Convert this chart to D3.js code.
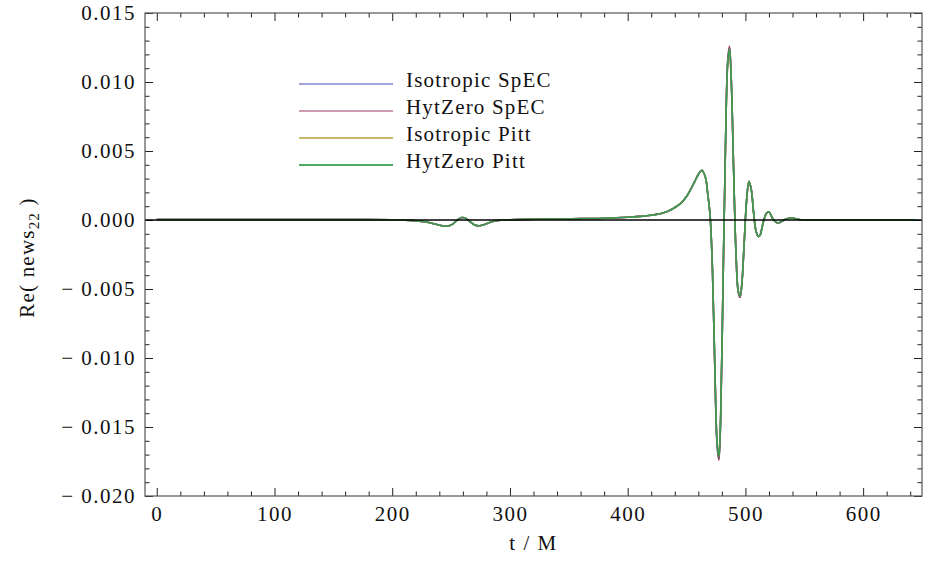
<!DOCTYPE html>
<html>
<head>
<meta charset="utf-8">
<script src="https://cdn.jsdelivr.net/npm/d3@7/dist/d3.min.js"></script>
<style>
  html, body { margin: 0; padding: 0; background: #fff; }
  svg { display: block; }
  text { font-family: "Liberation Serif", "Times New Roman", serif; fill: #111; }
</style>
</head>
<body>
<svg id="chart" width="925" height="575"></svg>
<script>
// ---------------- data ----------------
const tValues = [
  0, 40, 80, 120, 160, 200, 215, 225, 232, 238,
  243, 247, 251, 255, 259, 263, 266, 270, 274, 279,
  284, 290, 300, 320, 340, 360, 380, 400, 410, 420,
  430, 438, 445, 450, 454, 457, 460, 463, 466, 468,
  470, 472, 474, 476, 477.5, 479, 481, 483, 485, 486.5,
  488, 490, 492, 494, 495.5, 497, 499, 501, 503, 505,
  507, 509, 511, 512.5, 514, 516, 518, 520, 522, 524,
  527, 530, 534, 538, 542, 547, 555, 570, 600, 630,
  645
];

const isotropicSpEC = [
  0.00003, 0.00003, 0.00003, 0.00003, 0.00003, 0.00002, -0.00003, -0.0001, -0.0002, -0.00033,
  -0.00042, -0.00045, -0.00032, -0.00002, 0.00018, 0.0001, -0.00012, -0.00036, -0.00042, -0.0003,
  -0.00015, -0.00004, 0.00002, 0.00005, 0.00007, 0.0001, 0.00013, 0.0002, 0.00026, 0.00035,
  0.0005, 0.0008, 0.0012, 0.0017, 0.0023, 0.0028, 0.0033, 0.0036, 0.0031, 0.0019,
  0.0003, -0.0036, -0.0106, -0.0163, -0.0173, -0.0143, -0.0046, 0.0050, 0.0115, 0.0125,
  0.0102, 0.0036, -0.0024, -0.0052, -0.0056, -0.0046, -0.0016, 0.0014, 0.0028, 0.0022,
  0.0005, -0.0008, -0.0012, -0.0011, -0.0006, 0.0001, 0.0005, 0.0006, 0.0003, 0.0000,
  -0.0002, -0.00015, 0.00005, 0.00015, 0.0001, 0.00002, 0.0, 0.00001, 0.00001, 0.00001,
  0.00001
];

const hytZeroSpEC = [
  0.00003, 0.00003, 0.00003, 0.00003, 0.00003, 0.00002, -0.00003, -0.0001, -0.0002, -0.00033,
  -0.00042, -0.00045, -0.00032, -0.00002, 0.00018, 0.0001, -0.00012, -0.00036, -0.00042, -0.0003,
  -0.00015, -0.00004, 0.00002, 0.00005, 0.00007, 0.0001, 0.00013, 0.0002, 0.00026, 0.00035,
  0.0005, 0.0008, 0.0012, 0.0017, 0.0023, 0.0028, 0.0033, 0.0036, 0.0031, 0.0019,
  0.0003, -0.0036, -0.0107, -0.0164, -0.0174, -0.0144, -0.0046, 0.0050, 0.0116, 0.0126,
  0.0102, 0.0036, -0.0024, -0.0053, -0.0056, -0.0046, -0.0016, 0.0014, 0.0028, 0.0022,
  0.0005, -0.0008, -0.0012, -0.0011, -0.0006, 0.0001, 0.0005, 0.0006, 0.0003, 0.0000,
  -0.0002, -0.00015, 0.00005, 0.00015, 0.0001, 0.00002, 0.0, 0.00001, 0.00001, 0.00001,
  0.00001
];

const isotropicPitt = [
  0.00003, 0.00003, 0.00003, 0.00003, 0.00003, 0.00002, -0.00003, -0.0001, -0.0002, -0.00033,
  -0.00042, -0.00045, -0.00032, -0.00002, 0.00018, 0.0001, -0.00012, -0.00036, -0.00042, -0.0003,
  -0.00015, -0.00004, 0.00002, 0.00005, 0.00007, 0.0001, 0.00013, 0.0002, 0.00026, 0.00035,
  0.0005, 0.0008, 0.0012, 0.0017, 0.0023, 0.0028, 0.0033, 0.0036, 0.0031, 0.0019,
  0.0003, -0.0035, -0.0105, -0.0161, -0.0171, -0.0141, -0.0045, 0.0050, 0.0113, 0.0123,
  0.0100, 0.0036, -0.0024, -0.0052, -0.0055, -0.0046, -0.0016, 0.0014, 0.0028, 0.0022,
  0.0005, -0.0008, -0.0012, -0.0011, -0.0006, 0.0001, 0.0005, 0.0006, 0.0003, 0.0000,
  -0.0002, -0.00015, 0.00005, 0.00015, 0.0001, 0.00002, 0.0, 0.00001, 0.00001, 0.00001,
  0.00001
];

const hytZeroPitt = [
  0.00003, 0.00003, 0.00003, 0.00003, 0.00003, 0.00002, -0.00003, -0.0001, -0.0002, -0.00033,
  -0.00042, -0.00045, -0.00032, -0.00002, 0.00018, 0.0001, -0.00012, -0.00036, -0.00042, -0.0003,
  -0.00015, -0.00004, 0.00002, 0.00005, 0.00007, 0.0001, 0.00013, 0.0002, 0.00026, 0.00035,
  0.0005, 0.0008, 0.0012, 0.0017, 0.0023, 0.0028, 0.0033, 0.0036, 0.0031, 0.0019,
  0.0003, -0.0035, -0.0105, -0.0162, -0.0172, -0.0142, -0.0045, 0.0050, 0.0114, 0.0124,
  0.0101, 0.0036, -0.0024, -0.0052, -0.0055, -0.0046, -0.0016, 0.0014, 0.0028, 0.0022,
  0.0005, -0.0008, -0.0012, -0.0011, -0.0006, 0.0001, 0.0005, 0.0006, 0.0003, 0.0000,
  -0.0002, -0.00015, 0.00005, 0.00015, 0.0001, 0.00002, 0.0, 0.00001, 0.00001, 0.00001,
  0.00001
];

const seriesNames = ["Isotropic SpEC", "HytZero SpEC", "Isotropic Pitt", "HytZero Pitt"];
const seriesColors = ["#3d3d99", "#993d71", "#998b3d", "#3d9954"];
const legendColors = ["#4848b8", "#a03a68", "#b89c3c", "#4cab62"];

const xTickValues = [0, 100, 200, 300, 400, 500, 600];
const xTickLabels = ["0", "100", "200", "300", "400", "500", "600"];
const yTickValues = [0.015, 0.010, 0.005, 0.000, -0.005, -0.010, -0.015, -0.020];
const yTickLabels = ["0.015", "0.010", "0.005", "0.000", "\u2212 0.005", "\u2212 0.010", "\u2212 0.015", "\u2212 0.020"];

// ---------------- layout ----------------
const svg = d3.select("#chart");
const margin = { left: 145, top: 13, right: 3, bottom: 79 };
const W = 925 - margin.left - margin.right;
const H = 575 - margin.top - margin.bottom;

const x = d3.scaleLinear().domain([-10, 650]).range([0, W]);
const y = d3.scaleLinear().domain([-0.020, 0.015]).range([H, 0]);

const g = svg.append("g").attr("transform", `translate(${margin.left},${margin.top})`);

svg.append("defs").append("clipPath").attr("id", "clip")
  .append("rect").attr("width", W).attr("height", H);

const xMinor = d3.range(0, 651, 20).filter(v => v % 100 !== 0);
const yMinor = d3.range(-20, 16, 1).filter(v => v % 5 !== 0).map(v => v / 1000);

function styleAxis(sel) {
  sel.select(".domain").remove();
  sel.selectAll(".tick line").attr("stroke", "#222").attr("stroke-width", 1);
}

// bottom
g.append("g").attr("transform", `translate(0,${H})`)
  .call(d3.axisBottom(x).tickValues(xMinor).tickSize(-4.5).tickFormat(""))
  .call(styleAxis);
const bottomAxis = g.append("g").attr("transform", `translate(0,${H})`)
  .call(d3.axisBottom(x).tickValues(xTickValues).tickSize(-8).tickPadding(10)
    .tickFormat((d, i) => xTickLabels[i]))
  .call(styleAxis);
bottomAxis.selectAll("text").attr("font-size", 21).attr("letter-spacing", 1.5)
  .attr("fill", "#111");

// top
g.append("g")
  .call(d3.axisTop(x).tickValues(xMinor).tickSize(-4.5).tickFormat(""))
  .call(styleAxis);
g.append("g")
  .call(d3.axisTop(x).tickValues(xTickValues).tickSize(-8).tickFormat(""))
  .call(styleAxis);

// left
g.append("g")
  .call(d3.axisLeft(y).tickValues(yMinor).tickSize(-4.5).tickFormat(""))
  .call(styleAxis);
const leftAxis = g.append("g")
  .call(d3.axisLeft(y).tickValues(yTickValues).tickSize(-8).tickPadding(9)
    .tickFormat((d, i) => yTickLabels[i]))
  .call(styleAxis);
leftAxis.selectAll("text").attr("font-size", 21).attr("letter-spacing", 1.5)
  .attr("fill", "#111");

// right
g.append("g").attr("transform", `translate(${W},0)`)
  .call(d3.axisRight(y).tickValues(yMinor).tickSize(-4.5).tickFormat(""))
  .call(styleAxis);
g.append("g").attr("transform", `translate(${W},0)`)
  .call(d3.axisRight(y).tickValues(yTickValues).tickSize(-8).tickFormat(""))
  .call(styleAxis);

// curves
const seriesData = [isotropicSpEC, hytZeroSpEC, isotropicPitt, hytZeroPitt];
const line = d3.line()
  .x((d, i) => x(tValues[i]))
  .y(d => y(d))
  .curve(d3.curveCatmullRom.alpha(0.5));

const curves = g.append("g").attr("clip-path", "url(#clip)");
seriesData.forEach((vals, k) => {
  curves.append("path")
    .datum(vals)
    .attr("fill", "none")
    .attr("stroke", seriesColors[k])
    .attr("stroke-width", 1.6)
    .attr("stroke-linejoin", "round")
    .attr("d", line);
});

// zero axis line
g.append("line")
  .attr("x1", 0).attr("x2", W)
  .attr("y1", y(0)).attr("y2", y(0))
  .attr("stroke", "#000").attr("stroke-width", 1.5);

// frame
g.append("rect").attr("width", W).attr("height", H)
  .attr("fill", "none").attr("stroke", "#555").attr("stroke-width", 1.2);

// legend
const legend = svg.append("g");
const legendWidths = [1.1, 1.1, 1.4, 2.0];
seriesNames.forEach((name, k) => {
  const ly = 84 + k * 27;
  legend.append("line")
    .attr("x1", 299).attr("x2", 393)
    .attr("y1", ly).attr("y2", ly)
    .attr("stroke", legendColors[k]).attr("stroke-width", legendWidths[k]);
  legend.append("text")
    .attr("x", 406).attr("y", ly + 3)
    .attr("font-size", 21).attr("letter-spacing", 1.2)
    .text(name);
});

// axis titles
svg.append("text")
  .attr("x", margin.left + W / 2).attr("y", 550)
  .attr("text-anchor", "middle")
  .attr("font-size", 21).attr("letter-spacing", 1.5)
  .text("t / M");

const yt = svg.append("text")
  .attr("transform", `translate(34,${margin.top + H / 2 + 3}) rotate(-90)`)
  .attr("text-anchor", "middle")
  .attr("font-size", 21).attr("letter-spacing", 1.2);
yt.append("tspan").text("Re( news");
yt.append("tspan").attr("font-size", 15).attr("dy", 5).text("22");
yt.append("tspan").attr("dy", -5).text(" )");
</script>
</body>
</html>
